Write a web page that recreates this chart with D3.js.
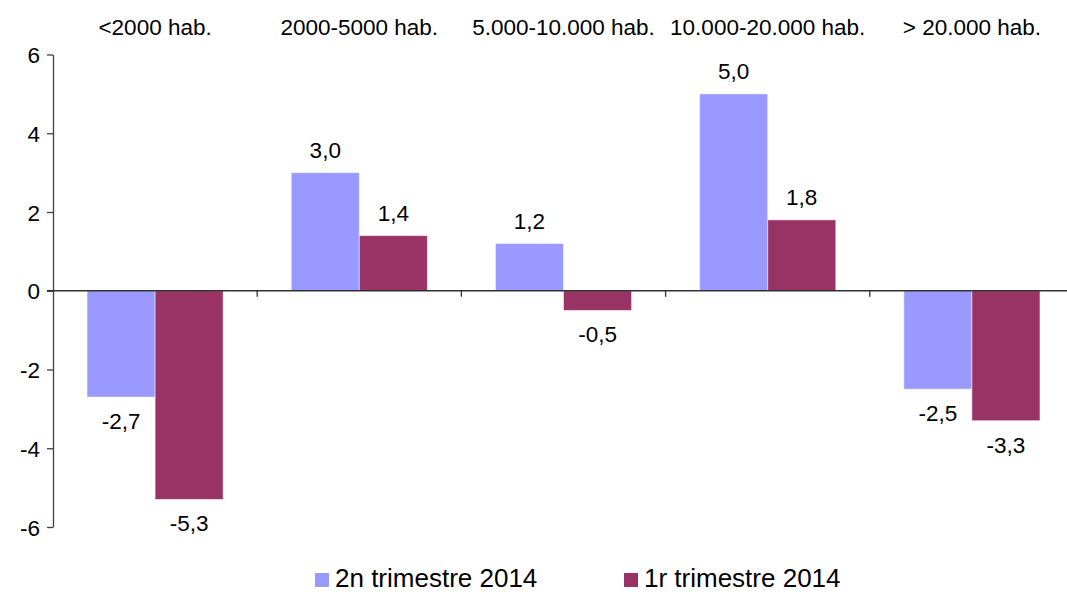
<!DOCTYPE html>
<meta charset="utf-8">
<script src="https://d3js.org/d3.v7.min.js"></script>
<style>
body { margin: 0; background: #fff; }
text { font-family: Arial, "Liberation Sans", sans-serif; fill: #000; }
.lbl { font-size: 22.5px; }
.legend text { font-size: 26px; }
</style>
<div id="plot"></div>
<script>
// data
var categories = ["<2000 hab.", "2000-5000 hab.", "5.000-10.000 hab.", "10.000-20.000 hab.", "> 20.000 hab."];
var series = ["2n trimestre 2014", "1r trimestre 2014"];
var q2 = [-2.7, 3.0, 1.2, 5.0, -2.5];
var q1 = [-5.3, 1.4, -0.5, 1.8, -3.3];
var yTicks = [-6, -4, -2, 0, 2, 4, 6];
var colors = ["#9999FF", "#993366"];

var width = 1067, height = 594;

var svg = d3.select("#plot").append("svg")
    .attr("width", width)
    .attr("height", height);

var x0 = d3.scaleBand().domain(categories).range([53, 1074]).padding(0);
var x1 = d3.scaleBand().domain(series).range([0, x0.bandwidth()]).paddingInner(0).paddingOuter(0.5);
var y = d3.scaleLinear().domain([-6, 6]).range([527, 54.5]);
var color = d3.scaleOrdinal().domain(series).range(colors);

var fmt = function(v) { return d3.format(".1f")(v).replace(".", ",").replace("−", "-"); };

var rows = categories.map(function(c, i) {
  return { cat: c, vals: [{ s: series[0], v: q2[i] }, { s: series[1], v: q1[i] }] };
});

// bars
var groups = svg.selectAll(".grp")
  .data(rows)
  .enter().append("g")
    .attr("class", "grp")
    .attr("transform", function(d) { return "translate(" + x0(d.cat) + ",0)"; });

groups.selectAll("rect")
  .data(function(d) { return d.vals; })
  .enter().append("rect")
    .attr("x", function(d) { return x1(d.s); })
    .attr("width", x1.bandwidth())
    .attr("y", function(d) { return y(Math.max(0, d.v)); })
    .attr("height", function(d) { return Math.abs(y(d.v) - y(0)); })
    .attr("fill", function(d) { return color(d.s); })
    .attr("stroke", "#fff")
    .attr("stroke-opacity", 0.5)
    .attr("stroke-width", 1);

groups.selectAll(".val")
  .data(function(d) { return d.vals; })
  .enter().append("text")
    .attr("class", "lbl val")
    .attr("x", function(d) { return x1(d.s) + x1.bandwidth() / 2; })
    .attr("y", function(d) { return d.v >= 0 ? y(d.v) - 15 : y(d.v) + 32; })
    .attr("text-anchor", "middle")
    .text(function(d) { return fmt(d.v); });

// y axis
var yAxis = svg.append("g")
    .attr("transform", "translate(53,0)")
    .call(d3.axisLeft(y).tickValues(yTicks).tickSize(6).tickSizeOuter(0).tickFormat(function(d) { return d3.format("d")(d).replace("−", "-"); }));
yAxis.select(".domain").attr("stroke", "#404040").attr("stroke-width", 1.3);
yAxis.selectAll(".tick line").attr("stroke", "#404040").attr("stroke-width", 1.3);
yAxis.selectAll(".tick text")
    .attr("class", "lbl")
    .attr("x", -13)
    .attr("dy", "0.36em")
    .style("font-family", "Arial, 'Liberation Sans', sans-serif")
    .style("font-size", "22.5px")
    .attr("fill", "#000");

// zero line with category ticks
var zero = svg.append("g").attr("transform", "translate(0," + y(0) + ")");
zero.append("line")
    .attr("x1", 47).attr("x2", width)
    .attr("stroke", "#303030").attr("stroke-width", 1.5);
zero.selectAll(".ctick")
  .data(categories.slice(1))
  .enter().append("line")
    .attr("x1", function(d) { return x0(d); })
    .attr("x2", function(d) { return x0(d); })
    .attr("y1", 0).attr("y2", 6)
    .attr("stroke", "#303030").attr("stroke-width", 1.3);

// category labels at top
svg.selectAll(".cat")
  .data(categories)
  .enter().append("text")
    .attr("class", "lbl cat")
    .attr("x", function(d) { return x0(d) + x0.bandwidth() / 2; })
    .attr("y", 35)
    .attr("text-anchor", "middle")
    .text(function(d) { return d; });

// legend
var legendX = [315, 624];
var legend = svg.selectAll(".legend")
  .data(series)
  .enter().append("g")
    .attr("class", "legend")
    .attr("transform", function(d, i) { return "translate(" + legendX[i] + ",573)"; });
legend.append("rect")
    .attr("width", 14).attr("height", 14)
    .attr("fill", function(d) { return color(d); });
legend.append("text")
    .attr("x", 20)
    .attr("y", 14)
    .text(function(d) { return d; });
</script>
